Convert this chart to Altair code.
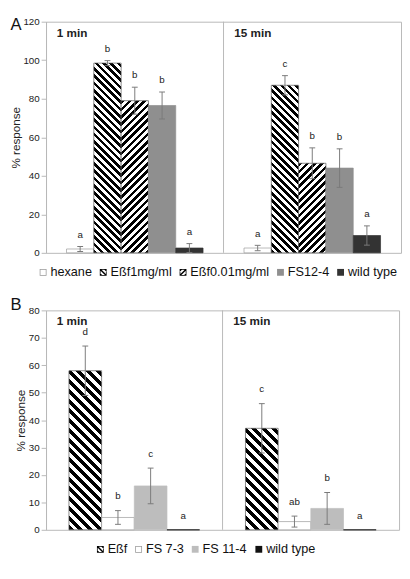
import altair as alt

FONT = "Liberation Sans, Arial, sans-serif"
FRAME = "#b8b8b8"
INK = "#222222"
ERRC = "#7a7a7a"

# ---------------- data: panel A ----------------
a_groups = ["1 min", "15 min"]
a_series = ["hexane", "Eßf1mg/ml", "Eßf0.01mg/ml", "FS12-4", "wild type"]
a_val_1 = [2.0, 98.5, 79.0, 76.5, 2.5]
a_err_1 = [1.3, 1.3, 7.0, 7.0, 2.3]
a_let_1 = ["a", "b", "b", "b", "a"]
a_val_15 = [2.5, 87.0, 46.5, 44.0, 9.0]
a_err_15 = [1.4, 5.0, 8.0, 10.0, 5.0]
a_let_15 = ["a", "c", "b", "b", "a"]

# ---------------- data: panel B ----------------
b_groups = ["1 min", "15 min"]
b_series = ["Eßf", "FS 7-3", "FS 11-4", "wild type"]
b_val_1 = [58.0, 4.5, 16.0, 0.0]
b_err_1 = [9.0, 2.5, 6.5, 0.0]
b_let_1 = ["d", "b", "c", "a"]
b_val_15 = [37.0, 3.0, 7.8, 0.0]
b_err_15 = [9.0, 2.0, 5.8, 0.0]
b_let_15 = ["c", "ab", "b", "a"]

# ---------------- styles (fill, outline) ----------------
a_styles = [("white", "#999999"), ("hatch\\", "#555555"), ("hatch/", "#555555"),
            ("#8f8f8f", "#8f8f8f"), ("#333333", "#333333")]
b_styles = [("hatch\\", "#555555"), ("white", "#999999"), ("#bdbdbd", "#bdbdbd"),
            ("#111111", "#111111")]

RING = "M-1,-1 L1,-1 L1,1 L-1,1 Z M-0.78,-0.78 L-0.78,0.78 L0.78,0.78 L0.78,-0.78 Z"

# Arial / Liberation Sans advance widths (em) for legend layout
CHAR_W = {"h": .556, "e": .556, "x": .5, "a": .556, "n": .556, "E": .667, "ß": .611,
          "f": .278, "1": .556, "m": .833, "g": .556, "/": .278, "l": .222, "0": .556,
          ".": .278, "F": .611, "S": .667, "2": .556, "-": .333, "4": .556, "w": .722,
          "i": .222, "d": .556, " ": .278, "t": .278, "y": .5, "p": .556, "7": .556,
          "3": .556}
LEG_FS = 13
SYM = 7


def text_w(s):
    return sum(CHAR_W.get(c, .556) for c in s) * LEG_FS


def hatch_gradient(w, h, direction, period, frac=0.5):
    k = w / (w * w + h * h)
    if direction == "\\":
        x1, y1, x2, y2 = 0, 1, 1, 1 - h / w
    else:
        x1, y1, x2, y2 = 0, 0, 1, h / w
    stops = []
    i = 0
    while True:
        s0 = i * period
        if s0 * k > 1:
            break
        for s, col in ((s0, "#000000"), (s0 + period * frac, "#000000"),
                       (s0 + period * frac, "#ffffff"), (s0 + period, "#ffffff")):
            stops.append({"offset": round(min(1.0, s * k), 5), "color": col})
        if s0 > w + h:
            break
        i += 1
    return {"gradient": "linear", "x1": x1, "y1": y1, "x2": x2, "y2": y2, "stops": stops}


def clip_half(poly, a, b, c):
    out = []
    n = len(poly)
    for i in range(n):
        P = poly[i]
        Q = poly[(i + 1) % n]
        fp = a * P[0] + b * P[1] - c
        fq = a * Q[0] + b * Q[1] - c
        if fp <= 0:
            out.append(P)
        if (fp < 0 < fq) or (fq < 0 < fp):
            t = fp / (fp - fq)
            out.append((P[0] + t * (Q[0] - P[0]), P[1] + t * (Q[1] - P[1])))
    return out


def hatch_icon(direction):
    sq = [(-1, -1), (1, -1), (1, 1), (-1, 1)]
    sgn = -1 if direction == "\\" else 1
    parts = []
    for c0 in (-1.7, -0.3, 1.1):
        poly = clip_half(sq, 1, sgn, c0 + 0.6)
        poly = clip_half(poly, -1, -sgn, -c0)
        if len(poly) >= 3:
            parts.append("M" + " L".join(f"{x:.3f},{y:.3f}" for x, y in poly) + " Z")
    parts.append(RING)
    return " ".join(parts)


def panel(letter, groups, series, vals, errs, lets, styles, W, H, ymax, ystep,
          bar_w, period, letter_dy, glabel_dy, legend_start, legend_dy, label_x, label_y):
    n = len(series)
    pad_outer = ((W / 2) / bar_w - n) / 2
    rows = []
    for gi, g in enumerate(groups):
        for si, s in enumerate(series):
            v = vals[gi][si]
            e = errs[gi][si]
            fill, stroke = styles[si]
            if fill.startswith("hatch"):
                fill = hatch_gradient(bar_w, v * H / ymax, fill[5:], period)
            rows.append({"group": g, "series": s, "value": v, "lo": v - e, "hi": v + e,
                         "err": e, "letter": lets[gi][si], "fillv": fill, "strokev": stroke})

    xscale = alt.Scale(domain=groups, paddingInner=0, paddingOuter=0)
    x = alt.X("group:N", scale=xscale, axis=None, sort=groups)
    xoff = alt.XOffset("series:N", scale=alt.Scale(domain=series, paddingInner=0,
                                                  paddingOuter=pad_outer), sort=series)
    yscale = alt.Scale(domain=[0, ymax], nice=False, zero=True)
    yaxis = alt.Axis(values=list(range(0, ymax + 1, ystep)), title="% response", grid=False,
                     domainColor=FRAME, tickColor=FRAME, tickSize=5, labelPadding=2,
                     labelFontSize=10, labelFont=FONT, labelColor=INK,
                     titleFont=FONT, titleFontSize=12, titleFontWeight="normal",
                     titleColor=INK, titlePadding=1)

    base = alt.Chart(alt.Data(values=rows))

    divider = alt.Chart(alt.Data(values=[{"group": groups[1]}])).mark_rule(
        color=FRAME, strokeWidth=1).encode(x=alt.X("group:N", scale=xscale, axis=None,
                                                   sort=groups, bandPosition=0))

    bars = base.mark_bar(strokeWidth=0.7).encode(
        x=x, xOffset=xoff,
        y=alt.Y("value:Q", scale=yscale, axis=yaxis, stack=None),
        fill=alt.Fill("fillv:N", scale=None, legend=None),
        stroke=alt.Stroke("strokev:N", scale=None, legend=None),
    )

    eb = base.transform_filter("datum.err > 0")
    rules = eb.mark_rule(color=ERRC, strokeWidth=1).encode(
        x=x, xOffset=xoff, y=alt.Y("lo:Q", scale=yscale, axis=yaxis), y2="hi:Q")
    cap_hi = eb.mark_tick(color=ERRC, thickness=1, size=6, opacity=1).encode(
        x=x, xOffset=xoff, y=alt.Y("hi:Q", scale=yscale, axis=yaxis))
    cap_lo = eb.mark_tick(color=ERRC, thickness=1, size=6, opacity=1).encode(
        x=x, xOffset=xoff, y=alt.Y("lo:Q", scale=yscale, axis=yaxis))

    letters = base.mark_text(baseline="bottom", dy=letter_dy, fontSize=10, font=FONT,
                             color=INK).encode(
        x=x, xOffset=xoff, y=alt.Y("hi:Q", scale=yscale, axis=yaxis), text="letter:N")

    glabels = alt.Chart(alt.Data(values=[{"group": g} for g in groups])).mark_text(
        align="left", baseline="middle", dx=11, dy=glabel_dy, fontSize=12,
        fontWeight="bold", font=FONT, color=INK).encode(
        x=alt.X("group:N", scale=xscale, axis=None, sort=groups, bandPosition=0),
        y=alt.Y(datum=ymax, scale=yscale, axis=yaxis),
        text="group:N")

    plabel = alt.Chart(alt.Data(values=[{"t": letter}])).mark_text(
        align="left", baseline="alphabetic", fontSize=17, font=FONT, color="#111111").encode(
        text="t:N", x=alt.value(label_x), y=alt.value(label_y))

    # ---- legend (symbol + label), laid out from the label text widths ----
    leg_colors, leg_shapes = [], []
    for fill, stroke in styles:
        if fill.startswith("hatch"):
            leg_colors.append("#000000")
            leg_shapes.append(hatch_icon(fill[5:]))
        elif fill == "white":
            leg_colors.append(stroke)
            leg_shapes.append(RING)
        else:
            leg_colors.append(fill)
            leg_shapes.append("square")
    leg_rows = []
    cur = legend_start
    for s in series:
        leg_rows.append({"series": s, "sx": cur + SYM / 2, "tx": cur + SYM + 4})
        cur += SYM + 4 + text_w(s) + 8
    leg_data = alt.Data(values=leg_rows)
    leg_sym = alt.Chart(leg_data).mark_point(filled=True, size=SYM * SYM, opacity=1).encode(
        x=alt.X("sx:Q", scale=None, axis=None),
        y=alt.value(H + legend_dy),
        color=alt.Color("series:N", scale=alt.Scale(domain=series, range=leg_colors),
                        sort=series, legend=None),
        shape=alt.Shape("series:N", scale=alt.Scale(domain=series, range=leg_shapes),
                        sort=series, legend=None),
    )
    leg_txt = alt.Chart(leg_data).mark_text(
        align="left", baseline="middle", fontSize=LEG_FS, font=FONT, color="#111111").encode(
        x=alt.X("tx:Q", scale=None, axis=None),
        y=alt.value(H + legend_dy),
        text="series:N")

    return alt.layer(divider, bars, rules, cap_hi, cap_lo, letters, glabels, plabel,
                     leg_sym, leg_txt).properties(width=W, height=H)


chart_a = panel("A", a_groups, a_series, [a_val_1, a_val_15], [a_err_1, a_err_15],
                [a_let_1, a_let_15], a_styles, W=364, H=237, ymax=120, ystep=20,
                bar_w=28, period=7.5, letter_dy=-7, glabel_dy=12,
                legend_start=-6.5, legend_dy=20, label_x=-36.5, label_y=8)
chart_b = panel("B", b_groups, b_series, [b_val_1, b_val_15], [b_err_1, b_err_15],
                [b_let_1, b_let_15], b_styles, W=362, H=225, ymax=80, ystep=10,
                bar_w=33.5, period=10, letter_dy=-9.5, glabel_dy=10.5,
                legend_start=52.2, legend_dy=20, label_x=-36.5, label_y=0)

chart = alt.concat(chart_a, chart_b, columns=1, spacing=16, padding=0).resolve_scale(
    x="independent", y="independent", xOffset="independent",
    color="independent", shape="independent").configure_view(
    stroke=FRAME, strokeWidth=1)

chart.save("out.html", embed_options={"renderer": "svg", "actions": False})
